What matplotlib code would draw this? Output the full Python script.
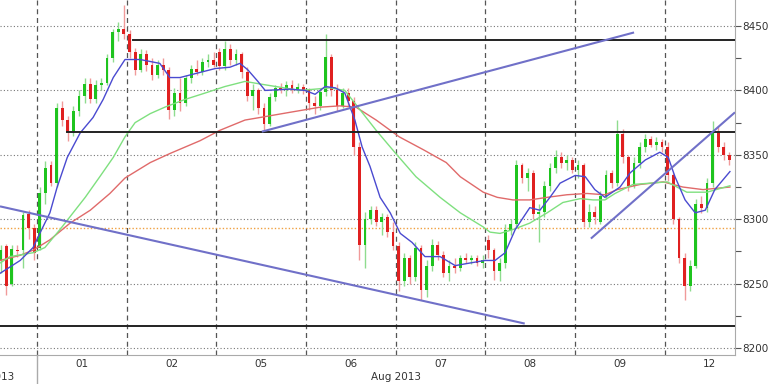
import numpy as np
import matplotlib.pyplot as plt
from matplotlib.transforms import blended_transform_factory

# ---------- candles (16 bars per day, bar 0 = start of Aug 01) ----------
first_bar = -7
opens = [8268, 8279, 8250, 8276, 8276, 8304, 8293,
         # Aug 01
         8278, 8320, 8342, 8328, 8386, 8377, 8368, 8384, 8396, 8405, 8393, 8404, 8406, 8425, 8445, 8448,
         # Aug 02
         8444, 8430, 8416, 8428, 8420, 8412, 8420, 8416, 8385, 8398, 8390, 8410, 8417, 8414, 8422, 8424,
         # Aug 05
         8430, 8419, 8432, 8424, 8428, 8414, 8396, 8400, 8386, 8374, 8395, 8402, 8400, 8404, 8401, 8403,
         # Aug 06
         8400, 8390, 8388, 8399, 8426, 8400, 8388, 8398, 8392, 8356, 8280, 8300, 8307, 8298, 8302, 8290,
         # Aug 07
         8279, 8252, 8270, 8255, 8278, 8245, 8264, 8280, 8272, 8258, 8264, 8262, 8270, 8268, 8270, 8266,
         # Aug 08
         8284, 8276, 8260, 8266, 8292, 8296, 8342, 8332, 8336, 8304, 8306, 8326, 8340, 8348, 8344, 8346,
         # Aug 09
         8338, 8342, 8298, 8306, 8298, 8318, 8336, 8328, 8366, 8348, 8326, 8344, 8356, 8362, 8358, 8360,
         # Aug 12
         8356, 8334, 8300, 8270, 8248, 8264, 8312, 8309, 8328, 8368, 8356, 8350]
highs = [8280, 8281, 8280, 8280, 8306, 8307, 8296,
         8325, 8345, 8345, 8390, 8392, 8380, 8388, 8400, 8410, 8410, 8408, 8410, 8428, 8448, 8453, 8466,
         8447, 8433, 8432, 8431, 8425, 8424, 8425, 8418, 8402, 8410, 8412, 8420, 8424, 8425, 8428, 8430,
         8433, 8438, 8436, 8432, 8430, 8418, 8405, 8402, 8390, 8398, 8404, 8406, 8407, 8408, 8406, 8405,
         8402, 8396, 8402, 8444, 8428, 8405, 8402, 8402, 8395, 8360, 8306, 8310, 8310, 8305, 8304, 8298,
         8282, 8274, 8272, 8282, 8280, 8268, 8285, 8283, 8275, 8268, 8270, 8272, 8274, 8272, 8272, 8272,
         8288, 8278, 8270, 8296, 8300, 8346, 8344, 8340, 8338, 8312, 8330, 8344, 8354, 8352, 8350, 8348,
         8346, 8344, 8312, 8310, 8322, 8338, 8338, 8377, 8370, 8350, 8348, 8360, 8366, 8365, 8364, 8362,
         8360, 8336, 8302, 8274, 8268, 8316, 8318, 8332, 8376, 8372, 8360, 8352]
lows = [8258, 8241, 8248, 8271, 8262, 8285, 8268,
        8276, 8312, 8326, 8325, 8372, 8361, 8365, 8380, 8390, 8390, 8390, 8400, 8404, 8422, 8438, 8440,
        8425, 8412, 8414, 8415, 8408, 8410, 8412, 8378, 8380, 8384, 8388, 8406, 8412, 8412, 8418, 8418,
        8416, 8416, 8420, 8420, 8410, 8392, 8385, 8382, 8368, 8372, 8392, 8398, 8396, 8398, 8398, 8397,
        8385, 8382, 8385, 8396, 8396, 8384, 8386, 8388, 8350, 8268, 8262, 8296, 8295, 8288, 8286, 8276,
        8244, 8248, 8250, 8252, 8237, 8240, 8260, 8268, 8255, 8252, 8258, 8260, 8266, 8265, 8264, 8262,
        8270, 8253, 8252, 8262, 8288, 8294, 8328, 8322, 8300, 8282, 8302, 8322, 8336, 8340, 8338, 8336,
        8332, 8294, 8294, 8296, 8296, 8316, 8324, 8326, 8344, 8322, 8324, 8340, 8352, 8356, 8354, 8352,
        8330, 8296, 8266, 8237, 8244, 8262, 8305, 8306, 8325, 8352, 8346, 8342]
closes = [8276, 8248, 8277, 8275, 8303, 8293, 8274,
          8320, 8340, 8328, 8386, 8377, 8368, 8384, 8396, 8405, 8393, 8404, 8406, 8425, 8445, 8448, 8444,
          8430, 8416, 8428, 8420, 8412, 8420, 8416, 8385, 8398, 8390, 8410, 8417, 8414, 8422, 8424, 8420,
          8419, 8432, 8424, 8428, 8414, 8396, 8400, 8386, 8374, 8395, 8402, 8400, 8404, 8401, 8403, 8400,
          8390, 8388, 8399, 8426, 8400, 8388, 8398, 8392, 8356, 8280, 8300, 8307, 8298, 8302, 8290, 8279,
          8252, 8270, 8255, 8278, 8245, 8264, 8280, 8272, 8258, 8264, 8262, 8270, 8268, 8270, 8266, 8268,
          8276, 8260, 8266, 8292, 8296, 8342, 8332, 8336, 8304, 8306, 8326, 8340, 8348, 8344, 8346, 8338,
          8342, 8298, 8306, 8302, 8318, 8334, 8328, 8366, 8348, 8326, 8344, 8356, 8362, 8358, 8360, 8356,
          8334, 8300, 8270, 8248, 8264, 8312, 8309, 8328, 8368, 8356, 8350, 8346]

# ---------- moving averages (bar, price) ----------
ma_fast_x = [-6.6, -3.0, -0.7, 0.5, 2.3, 3.6, 5.4, 7.7, 10.0, 11.8, 13.6, 15.7, 18.4, 21.9, 23.7, 25.5,
             29.1, 31.8, 34.4, 36.2, 37.6, 39.4, 40.7, 45.1, 47.8, 49.6, 51.4, 53.2, 54.9, 56.7, 58.0,
             59.4, 61.2, 63.0, 64.8, 66.9, 69.2, 71.9, 74.6, 77.2, 79.9, 81.7, 83.5, 85.3, 87.9, 89.7,
             91.5, 93.3, 96.0, 97.8, 99.5, 101.3, 104.0, 105.8, 108.5, 111.1, 112.6, 113.8, 115.6,
             117.4, 119.2, 120.9, 123.6]
ma_fast = [8258, 8268, 8278, 8289, 8305, 8325, 8348, 8367, 8379, 8393, 8410, 8424, 8424, 8421, 8410, 8410,
           8414, 8417, 8418, 8421, 8416, 8407, 8400, 8401, 8400, 8397, 8403, 8402, 8398, 8377, 8356,
           8341, 8317, 8305, 8289, 8282, 8271, 8271, 8264, 8266, 8268, 8268, 8274, 8292, 8309, 8307,
           8317, 8328, 8334, 8333, 8323, 8317, 8325, 8336, 8346, 8352, 8348, 8333, 8315,
           8305, 8307, 8323, 8337]
ma_mid_x = [-6.6, -4.8, -0.7, 1.4, 4.1, 5.9, 8.6, 11.2, 13.6, 15.7, 17.5, 20.2, 22.8, 26.4, 30.0, 33.5,
            37.1, 39.8, 46.9, 52.3, 54.9, 56.9, 60.5, 64.0, 67.6, 71.9, 75.5, 79.6, 80.8, 82.6, 84.9,
            87.9, 91.0, 93.8, 96.9, 99.2, 101.3, 103.1, 106.3, 112.4, 115.9, 119.5, 123.6]
ma_mid = [8266, 8271, 8274, 8278, 8292, 8302, 8317, 8333, 8348, 8364, 8375, 8382, 8387, 8393, 8398, 8403,
          8407, 8405, 8400, 8402, 8400, 8389, 8369, 8351, 8333, 8317, 8305, 8294, 8290, 8289, 8292,
          8297, 8305, 8313, 8316, 8315, 8315, 8320, 8327, 8329, 8321, 8321, 8326]
ma_slow_x = [-6.6, -3.0, -0.7, 2.3, 5.9, 9.5, 13.0, 15.7, 20.2, 23.7, 29.1, 32.6, 37.1, 39.8, 45.1, 50.5,
             54.0, 56.9, 60.5, 64.6, 68.9, 73.0, 75.5, 79.6, 82.1, 84.9, 87.9, 91.0, 94.5, 98.1, 101.3,
             103.5, 107.6, 111.7, 115.2, 118.8, 123.6]
ma_slow = [8268, 8272, 8276, 8284, 8297, 8307, 8320, 8332, 8344, 8351, 8361, 8369, 8377, 8379, 8383, 8387,
           8388, 8387, 8377, 8364, 8354, 8344, 8333, 8321, 8317, 8315, 8315, 8317, 8319, 8320, 8319,
           8323, 8327, 8329, 8325, 8323, 8325]

# ---------- drawn lines ----------
trend_lines = [((-6.6, 87.0), (8310, 8219)),
               ((40.1, 106.5), (8368, 8445)),
               ((98.8, 124.5), (8285, 8383))]
levels = [(17.1, 8439), (5.4, 8368), (-6.6, 8217)]
orange_level = 8293

day_labels = ["01", "02", "05", "06", "07", "08", "09", "12"]
bars_per_day = 16

fig = plt.figure(figsize=(7.68, 3.84), dpi=100)
ax = fig.add_axes([0.0, 0.0755, 0.957, 0.9245])
xmin, xmax = -6.6, 124.5
ymin, ymax = 8194.6, 8470.2

# grid
for yv in range(8200, 8451, 50):
    ax.axhline(yv, color="#777777", ls=(0, (1, 2)), lw=0.8, zorder=0)
for d in range(len(day_labels)):
    ax.axvline(d * bars_per_day, color="#555555", ls=(0, (4, 3)), lw=0.9, zorder=0)

ax.axhline(orange_level, color="#f0a040", ls=(0, (1, 1.5)), lw=1.0, zorder=1)

# candles
x = np.arange(first_bar, first_bar + len(closes)) + 0.5
for xi, o, h, l, c in zip(x, opens, highs, lows, closes):
    up = c >= o
    body = "#1fc41f" if up else "#e02020"
    wick = "#8fdc8f" if up else "#f09a9a"
    ax.vlines(xi, l, h, color=wick, lw=1.0, zorder=2)
    ax.bar(xi, abs(c - o) if c != o else 0.6, bottom=min(o, c), width=0.5,
           color=body, lw=0, zorder=3)

# moving averages
ax.plot(ma_slow_x, ma_slow, color="#e06a6a", lw=1.0, zorder=4)
ax.plot(ma_mid_x, ma_mid, color="#7fe07f", lw=1.0, zorder=4)
ax.plot(ma_fast_x, ma_fast, color="#4a4ad0", lw=1.0, zorder=5)

# support / resistance
for x0, yv in levels:
    ax.plot([x0, xmax], [yv, yv], color="#222222", lw=1.4, zorder=6)
for xs, ys in trend_lines:
    ax.plot(xs, ys, color="#7070c8", lw=1.5, zorder=6, solid_capstyle="butt")

ax.set_xlim(xmin, xmax)
ax.set_ylim(ymin, ymax)

# axes styling
for side in ["top", "left"]:
    ax.spines[side].set_visible(False)
ax.spines["right"].set_color("#aaaaaa")
ax.spines["bottom"].set_color("#aaaaaa")
ax.yaxis.tick_right()
ax.set_yticks(range(8200, 8451, 50))
ax.set_yticks(range(8225, 8451, 50), minor=True)
ax.tick_params(axis="y", which="both", length=4, width=0.8, color="#555555",
               labelsize=7.5, pad=1, labelcolor="#333333")
ax.set_xticks([d * bars_per_day + bars_per_day / 2 for d in range(len(day_labels))])
ax.set_xticklabels(day_labels)
ax.tick_params(axis="x", length=0, labelsize=7.5, pad=3, labelcolor="#333333")

# month labels
tr = blended_transform_factory(ax.transData, ax.transAxes)
ax.plot([0, 0], [0, -0.1], color="#aaaaaa", lw=1, transform=tr, clip_on=False)
ax.text(4 * bars_per_day, -0.062, "Aug 2013", transform=tr, ha="center", va="center",
        fontsize=7.5, color="#333333")
ax.text(-4.0, -0.062, "Jul 2013", transform=tr, ha="right", va="center",
        fontsize=7.5, color="#333333")

plt.savefig("out.png", dpi=100)
